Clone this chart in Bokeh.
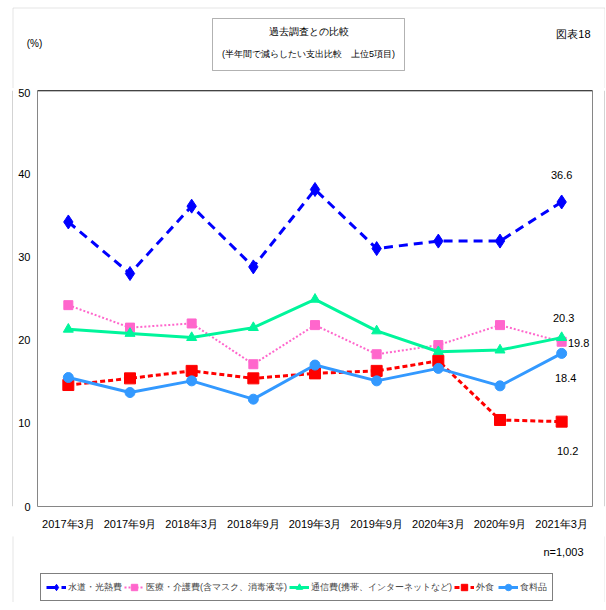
from bokeh.plotting import figure
from bokeh.layouts import column, row
from bokeh.models import (Legend, LegendItem, Label, Span, BoxAnnotation, FactorRange,
                          Range1d, FixedTicker)
from bokeh.core.properties import value
from bokeh.embed import file_html
from bokeh.resources import INLINE

periods = ["2017年3月", "2017年9月", "2018年3月", "2018年9月", "2019年3月",
           "2019年9月", "2020年3月", "2020年9月", "2021年3月"]
utilities = [34.2, 28.0, 36.1, 28.8, 38.1, 31.0, 31.9, 31.9, 36.6]
medical = [24.2, 21.5, 22.0, 17.1, 21.8, 18.3, 19.4, 21.8, 19.8]
telecom = [21.3, 20.8, 20.3, 21.5, 24.9, 21.1, 18.6, 18.8, 20.3]
dining = [14.6, 15.4, 16.3, 15.4, 16.0, 16.3, 17.5, 10.4, 10.2]
food = [15.5, 13.7, 15.1, 12.9, 17.0, 15.1, 16.6, 14.5, 18.4]
series_names = ["水道・光熱費", "医療・介護費(含マスク、消毒液等)",
                "通信費(携帯、インターネットなど)", "外食", "食料品"]
y_ticks = [0, 10, 20, 30, 40, 50]
title_lines = ["過去調査との比較", "(半年間で減らしたい支出比較　上位5項目)"]

FONT = "Liberation Sans"
FRAME = "#A6A6A6"
TOTAL_W = 605

styles = [
    dict(color="#0000FF", width=3, dash="9 6", marker="diamond", size=14),
    dict(color="#FF66CC", width=2, dash="2 2", marker="square", size=9),
    dict(color="#00F59B", width=3, dash="solid", marker="triangle", size=10),
    dict(color="#FF0000", width=3, dash="5 3", marker="square", size=11),
    dict(color="#3399FF", width=3, dash="solid", marker="circle", size=10),
]
series = [utilities, medical, telecom, dining, food]


def strip(width, height, xr, yr):
    f = figure(width=width, height=height, x_range=Range1d(*xr), y_range=Range1d(*yr),
               x_axis_type=None, y_axis_type=None, output_backend="svg",
               toolbar_location=None, min_border=0)
    f.xgrid.visible = False
    f.ygrid.visible = False
    f.outline_line_color = None
    return f


# ---- top strip (title, unit, figure number); coordinates are page pixels
p_top = strip(TOTAL_W, 88, (0, TOTAL_W), (88, 0))
p_top.add_layout(BoxAnnotation(left=12.5, right=604.5, top=7.5, bottom=200, fill_color=None,
                               line_color=FRAME, line_width=1))
p_top.add_layout(BoxAnnotation(left=212, right=404, top=18, bottom=70, fill_color="white",
                               fill_alpha=1, line_color="black", line_width=1))
p_top.add_layout(Label(x=308, y=31, text=title_lines[0], text_align="center",
                       text_baseline="middle", text_font=FONT, text_font_size="10px",
                       text_color="black"))
p_top.add_layout(Label(x=308, y=53, text=title_lines[1], text_align="center",
                       text_baseline="middle", text_font=FONT, text_font_size="9px",
                       text_color="black"))
p_top.add_layout(Label(x=34, y=43, text="(%)", text_align="center", text_baseline="middle",
                       text_font=FONT, text_font_size="10px", text_color="black"))
p_top.add_layout(Label(x=590, y=33, text="図表18", text_align="right", text_baseline="middle",
                       text_font=FONT, text_font_size="11px", text_color="black"))

# ---- side strips carrying the outer frame lines
p_ls = strip(13, 448, (0, 13), (0, 1))
p_ls.add_layout(Span(location=12.5, dimension="height", line_color=FRAME, line_width=1))
p_rs = strip(5, 448, (0, 5), (0, 1))
p_rs.add_layout(Span(location=4.5, dimension="height", line_color=FRAME, line_width=1))

# ---- main chart
p = figure(width=587, height=448, x_range=FactorRange(*periods, range_padding=0),
           y_range=Range1d(0, 50), output_backend="svg", toolbar_location=None,
           min_border_left=24, min_border_right=8, min_border_top=2, min_border_bottom=30)
p.xgrid.visible = False
p.ygrid.visible = False
p.outline_line_color = "#868686"
p.outline_line_width = 1
for ax in (p.xaxis[0], p.yaxis[0]):
    ax.axis_line_color = None
    ax.major_tick_line_color = None
    ax.minor_tick_line_color = None
    ax.major_tick_out = 0
    ax.major_tick_in = 0
    ax.minor_tick_out = 0
    ax.minor_tick_in = 0
    ax.major_label_text_font = FONT
    ax.major_label_text_color = "black"
p.yaxis[0].ticker = FixedTicker(ticks=y_ticks)
p.yaxis[0].major_label_text_font_size = "11px"
p.yaxis[0].major_label_standoff = 7
p.xaxis[0].major_label_text_font_size = "11px"
p.xaxis[0].major_label_standoff = 11
p.add_layout(Span(location=50, dimension="width", line_color="black", line_width=1.5))

for vals, st in zip(series, styles):
    p.line(periods, vals, line_color=st["color"], line_width=st["width"], line_dash=st["dash"])
    p.scatter(periods, vals, marker=st["marker"], size=st["size"],
              fill_color=st["color"], line_color=st["color"])

last = periods[-1]
lab_vals = [utilities[-1], telecom[-1], medical[-1], food[-1], dining[-1]]
p.text(x=[last] * 5, y=lab_vals, text=[f"{v:.1f}" for v in lab_vals],
       x_offset=[0, 2, 17, 4, 6], y_offset=[-27, -20, 1, 25, 29],
       text_align="center", text_baseline="middle",
       text_font=value(FONT), text_font_size="11px", text_color="black")

# ---- bottom strip (sample size, legend); coordinates are page pixels
p_bot = strip(TOTAL_W, 66, (0, TOTAL_W), (602, 536))
p_bot.add_layout(BoxAnnotation(left=12.5, right=604.5, top=400, bottom=800, fill_color=None,
                               line_color=FRAME, line_width=1))
p_bot.add_layout(Label(x=583, y=551, text="n=1,003", text_align="right",
                       text_baseline="middle", text_font=FONT, text_font_size="11px",
                       text_color="black"))
items = []
for name, vals, st in zip(series_names, series, styles):
    # hidden copies of each series: they only supply the legend swatches
    rl = p_bot.line(x=list(range(len(vals))), y=vals, line_color=st["color"],
                    line_width=st["width"], line_dash=st["dash"], visible=False)
    rm = p_bot.scatter(x=list(range(len(vals))), y=vals, marker=st["marker"],
                       size=st["size"], fill_color=st["color"], line_color=st["color"],
                       visible=False)
    items.append(LegendItem(label=name, renderers=[rl, rm]))
legend = Legend(items=items, orientation="horizontal", location=(40, 1),
                label_text_font=FONT, label_text_font_size="9px",
                glyph_width=20, glyph_height=16, label_height=16,
                label_standoff=2, spacing=2, padding=5, margin=0,
                border_line_color="black", border_line_width=1.5,
                background_fill_color="white", background_fill_alpha=1)
p_bot.add_layout(legend)

layout = column(p_top, row(p_ls, p, p_rs, spacing=0), p_bot, spacing=0)

open("out.html", "w").write(file_html(layout, INLINE))
